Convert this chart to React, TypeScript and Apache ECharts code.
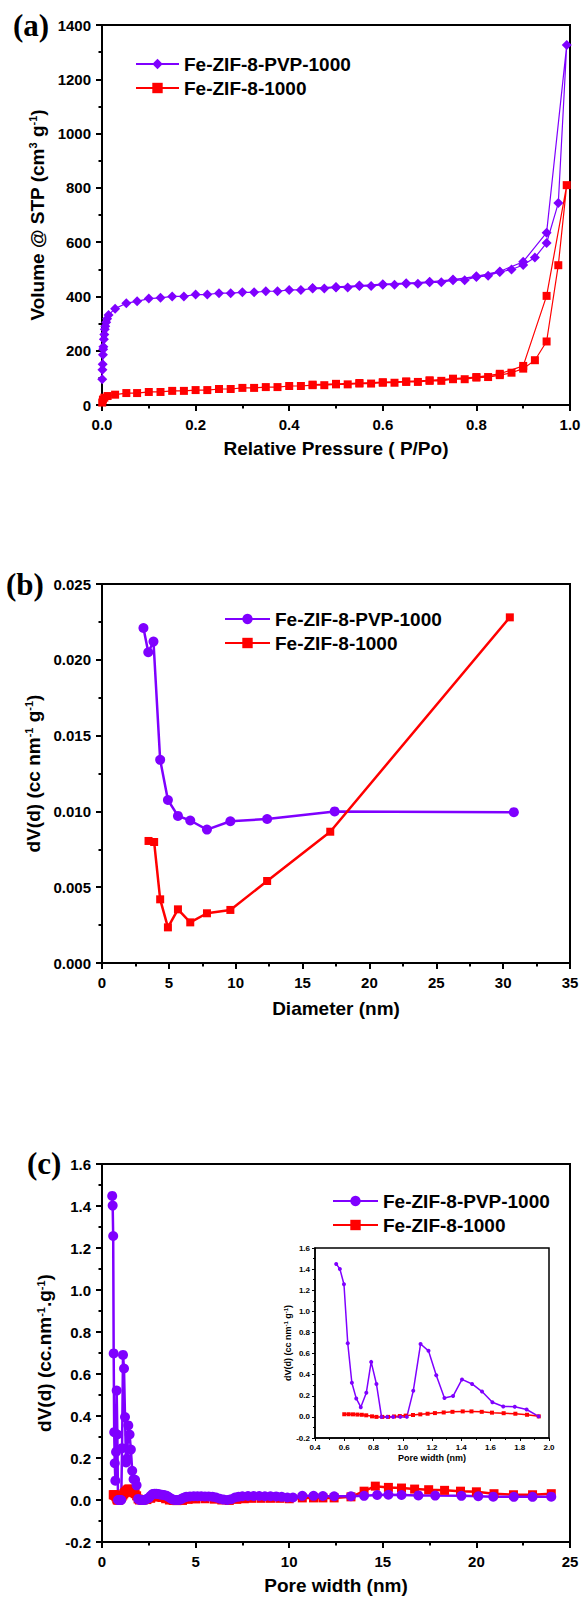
import React, { useEffect, useRef } from "react";
import * as echarts from "echarts";

const PVP = "Fe-ZIF-8-PVP-1000";
const FE = "Fe-ZIF-8-1000";
const PURPLE = "#7F00FF";
const RED = "#FF0000";
const FONT = "'Liberation Sans', Arial, sans-serif";
const SERIF = "'Liberation Serif', 'Times New Roman', serif";

// (a) N2 isotherms: [P/Po, volume]
const isoPvp: [number, number][] = [
  [0.0005, 95], [0.001, 130], [0.0015, 150], [0.002, 185], [0.0025, 205], [0.003, 215],
  [0.004, 242], [0.005, 260], [0.006, 279], [0.007, 290], [0.009, 305], [0.011, 318],
  [0.014, 332], [0.028, 355], [0.052, 375], [0.075, 382], [0.1, 392], [0.125, 395],
  [0.15, 400], [0.175, 400], [0.2, 407], [0.225, 407], [0.25, 412], [0.275, 412],
  [0.3, 415], [0.325, 415], [0.35, 419], [0.375, 419], [0.4, 424], [0.425, 424],
  [0.45, 429], [0.475, 429], [0.5, 433], [0.525, 433], [0.55, 438], [0.575, 438],
  [0.6, 443], [0.625, 443], [0.65, 447], [0.675, 447], [0.7, 452], [0.725, 452],
  [0.75, 460], [0.775, 460], [0.8, 472], [0.825, 476], [0.85, 490], [0.875, 499],
  [0.9, 516], [0.925, 543], [0.95, 597], [0.975, 744], [0.993, 1326],
  [0.95, 635], [0.9, 528], [0.85, 492], [0.8, 474], [0.75, 462], [0.7, 454],
  [0.65, 449], [0.6, 445], [0.55, 440], [0.5, 435], [0.45, 431],
];
const isoFe: [number, number][] = [
  [0.0005, 9], [0.002, 20], [0.005, 27], [0.012, 33], [0.028, 38], [0.052, 44],
  [0.075, 44], [0.1, 48], [0.125, 48], [0.15, 52], [0.175, 52], [0.2, 55],
  [0.225, 55], [0.25, 59], [0.275, 59], [0.3, 63], [0.325, 63], [0.35, 66],
  [0.375, 66], [0.4, 70], [0.425, 70], [0.45, 73], [0.475, 73], [0.5, 76],
  [0.525, 76], [0.55, 79], [0.575, 79], [0.6, 82], [0.625, 82], [0.65, 85],
  [0.675, 85], [0.7, 89], [0.725, 89], [0.75, 95], [0.775, 95], [0.8, 101],
  [0.825, 103], [0.85, 110], [0.875, 119], [0.9, 134], [0.925, 165], [0.95, 234],
  [0.975, 515], [0.993, 810],
  [0.95, 402], [0.9, 144], [0.85, 115], [0.8, 103], [0.75, 97], [0.7, 91],
  [0.65, 87], [0.6, 84], [0.55, 81], [0.5, 78], [0.45, 75],
];

// (b) pore size distribution: [diameter nm, dV(d)]
const bjhPvp: [number, number][] = [
  [3.1, 0.0221], [3.46, 0.0205], [3.85, 0.0212], [4.35, 0.0134], [4.93, 0.01075],
  [5.68, 0.0097], [6.6, 0.0094], [7.85, 0.0088], [9.6, 0.00935], [12.35, 0.0095],
  [17.4, 0.01], [30.8, 0.00995],
];
const bjhFe: [number, number][] = [
  [3.48, 0.00805], [3.9, 0.00798], [4.35, 0.0042], [4.93, 0.00235], [5.68, 0.00354],
  [6.6, 0.00268], [7.85, 0.00328], [9.6, 0.0035], [12.35, 0.00541], [17.07, 0.00866],
  [30.5, 0.0228],
];

// (c) DFT pore width distribution: [pore width nm, dV(d)]
const dftPvp: [number, number][] = [
  [0.545, 1.448], [0.57, 1.402], [0.598, 1.257], [0.624, 0.698], [0.652, 0.323],
  [0.682, 0.175], [0.713, 0.092], [0.751, 0.229], [0.784, 0.521], [0.82, 0.312],
  [0.855, 0.0], [0.894, 0.0], [0.934, 0.0], [0.983, 0.0], [1.028, 0.0],
  [1.072, 0.247], [1.122, 0.691], [1.176, 0.626], [1.229, 0.395], [1.285, 0.179],
  [1.344, 0.197], [1.405, 0.355], [1.474, 0.312], [1.542, 0.24], [1.613, 0.139],
  [1.687, 0.099], [1.766, 0.096], [1.847, 0.07], [1.929, 0.005],
  [2.0, 0.0], [2.1, 0.0], [2.2, 0.0], [2.3, 0.0], [2.4, 0.005], [2.5, 0.01],
  [2.6, 0.02], [2.7, 0.028], [2.8, 0.03], [2.9, 0.03], [3.0, 0.028], [3.1, 0.026],
  [3.2, 0.025], [3.3, 0.024], [3.4, 0.022], [3.5, 0.018], [3.6, 0.012], [3.7, 0.006],
  [3.8, 0.002], [3.9, 0.0], [4.0, 0.0], [4.1, 0.0], [4.2, 0.003], [4.3, 0.008],
  [4.4, 0.012], [4.5, 0.015], [4.7, 0.017], [4.9, 0.018], [5.1, 0.018], [5.3, 0.018],
  [5.5, 0.017], [5.7, 0.017], [5.9, 0.016], [6.1, 0.012], [6.3, 0.006], [6.5, 0.002],
  [6.7, 0.0], [6.9, 0.004], [7.1, 0.012], [7.3, 0.016], [7.5, 0.018], [7.8, 0.019],
  [8.1, 0.019], [8.4, 0.019], [8.7, 0.018], [9.0, 0.018], [9.3, 0.017], [9.6, 0.015],
  [9.9, 0.012], [10.2, 0.012], [10.7, 0.02], [11.3, 0.02], [11.8, 0.019], [12.4, 0.018],
  [13.3, 0.018], [14.0, 0.02], [14.7, 0.024], [15.3, 0.025], [16.0, 0.024], [16.9, 0.022],
  [17.8, 0.021], [19.2, 0.02], [20.1, 0.018], [20.9, 0.016], [22.0, 0.015], [23.0, 0.015],
  [24.0, 0.016],
];
const dftFe: [number, number][] = [
  [0.6, 0.025], [0.63, 0.025], [0.66, 0.024], [0.69, 0.022], [0.72, 0.02], [0.75, 0.015],
  [0.79, 0.005], [0.82, 0.0], [0.86, 0.0], [0.9, 0.0], [0.94, 0.004], [0.98, 0.008],
  [1.02, 0.012], [1.07, 0.018], [1.12, 0.024], [1.17, 0.03], [1.22, 0.036], [1.28, 0.042],
  [1.34, 0.048], [1.41, 0.052], [1.47, 0.052], [1.54, 0.048], [1.61, 0.04], [1.69, 0.035],
  [1.77, 0.03], [1.85, 0.02], [1.93, 0.005], [2.0, 0.0], [2.2, 0.0], [2.4, 0.002],
  [2.6, 0.008], [2.8, 0.014], [3.0, 0.016], [3.2, 0.012], [3.4, 0.006], [3.6, 0.0],
  [3.8, -0.002], [4.0, -0.003], [4.3, -0.002], [4.6, 0.003], [5.0, 0.005], [5.5, 0.006],
  [6.0, 0.004], [6.4, 0.0], [6.8, -0.002], [7.2, 0.003], [7.6, 0.006], [8.0, 0.008],
  [8.5, 0.008], [9.0, 0.008], [9.5, 0.008], [10.0, 0.006], [10.7, 0.01], [11.3, 0.01],
  [11.8, 0.01], [12.4, 0.01], [13.3, 0.015], [14.0, 0.042], [14.6, 0.066], [15.3, 0.06],
  [16.0, 0.057], [16.7, 0.052], [17.45, 0.049], [18.3, 0.046], [19.15, 0.042], [20.0, 0.039],
  [20.94, 0.03], [21.98, 0.025], [23.0, 0.025], [24.0, 0.03],
];

const tick = (v: number, d: number) => (Math.abs(v) < 1e-9 ? 0 : v).toFixed(d);

function valueAxis(gridIndex: number, min: number, max: number, interval: number, opts: any) {
  const small = !!opts.small;
  return {
    type: "value",
    gridIndex,
    min,
    max,
    interval,
    axisLine: { show: true, onZero: false, lineStyle: { color: "#000", width: small ? 1.5 : 2 } },
    axisTick: { show: true, inside: false, length: small ? 3 : 6, lineStyle: { color: "#000", width: small ? 1 : 2 } },
    minorTick: { show: true, splitNumber: 2, length: small ? 2 : 3.5, lineStyle: { color: "#000", width: small ? 1 : 2 } },
    splitLine: { show: false },
    minorSplitLine: { show: false },
    axisLabel: {
      show: true,
      color: "#000",
      fontSize: small ? 8 : 15,
      fontWeight: "bold",
      fontFamily: FONT,
      margin: opts.margin,
      formatter: (v: number) => tick(v, opts.dec),
      showMinLabel: true,
      showMaxLabel: true,
      hideOverlap: false,
    },
    name: opts.name,
    nameLocation: "middle",
    nameGap: opts.nameGap,
    nameTextStyle: {
      color: "#000",
      fontSize: small ? 9 : 19,
      fontWeight: "bold",
      fontFamily: FONT,
      rich: {
        n: { fontSize: small ? 9 : 19, fontWeight: "bold", fontFamily: FONT, color: "#000" },
        s: { fontSize: small ? 6 : 11, fontWeight: "bold", fontFamily: FONT, color: "#000", verticalAlign: "top" },
      },
    },
  };
}

const legendText = { fontSize: 19, fontWeight: "bold", fontFamily: FONT, color: "#000", lineHeight: 20 };

function lineSeries(name: string, data: [number, number][], idx: number, color: string, symbol: string, size: number, width: number) {
  return {
    type: "line",
    name,
    xAxisIndex: idx,
    yAxisIndex: idx,
    data,
    symbol,
    symbolSize: size,
    showAllSymbol: true,
    clip: true,
    lineStyle: { color, width },
    itemStyle: { color, borderWidth: 0 },
    emphasis: { disabled: true },
  };
}

function panelLabel(text: string, x: number, y: number) {
  return {
    type: "text",
    x,
    y,
    style: { text, fill: "#000", fontSize: 31, fontWeight: "bold", fontFamily: SERIF, verticalAlign: "middle" },
  };
}

export default function App() {
  const ref = useRef<HTMLDivElement>(null);
  useEffect(() => {
    if (!ref.current) return;
    const chart = echarts.init(ref.current, undefined, { renderer: "svg" });
    const gridBase = { show: true, borderColor: "#000", borderWidth: 2, backgroundColor: "transparent", containLabel: false, outerBoundsMode: "none" };
    const option: any = {
      animation: false,
      backgroundColor: "#fff",
      grid: [
        { ...gridBase, left: 102, top: 25, width: 468, height: 380 },
        { ...gridBase, left: 102, top: 584, width: 468, height: 379 },
        { ...gridBase, left: 102, top: 1164, width: 468, height: 378 },
        { ...gridBase, left: 315, top: 1248, width: 234, height: 190, borderWidth: 1.5, backgroundColor: "#fff" },
      ],
      xAxis: [
        valueAxis(0, 0, 1, 0.2, { dec: 1, margin: 12, name: "Relative Pressure ( P/Po)", nameGap: 34 }),
        valueAxis(1, 0, 35, 5, { dec: 0, margin: 12, name: "Diameter (nm)", nameGap: 36 }),
        valueAxis(2, 0, 25, 5, { dec: 0, margin: 12, name: "Pore width (nm)", nameGap: 34 }),
        valueAxis(3, 0.4, 2.0, 0.2, { dec: 1, margin: 5, name: "Pore width (nm)", nameGap: 15, small: true }),
      ],
      yAxis: [
        valueAxis(0, 0, 1400, 200, { dec: 0, margin: 11, name: "{n|Volume @ STP (cm}{s|3}{n| g}{s|-1}{n|)}", nameGap: 49 }),
        valueAxis(1, 0, 0.025, 0.005, { dec: 3, margin: 11, name: "{n|dV(d) (cc nm}{s|-1}{n| g}{s|-1}{n|)}", nameGap: 52 }),
        valueAxis(2, -0.2, 1.6, 0.2, { dec: 1, margin: 11, name: "{n|dV(d) (cc.nm}{s|-1}{n|.g}{s|-1}{n|)}", nameGap: 40 }),
        valueAxis(3, -0.2, 1.6, 0.2, { dec: 1, margin: 5, name: "{n|dV(d) (cc nm}{s|-1}{n| g}{s|-1}{n|)}", nameGap: 17, small: true }),
      ],
      legend: [
        {
          orient: "vertical", left: 130, top: 49, itemWidth: 43, itemHeight: 13, itemGap: 4,
          selectedMode: false, textStyle: legendText,
          data: [PVP + "#a", FE + "#a"], formatter: (n: string) => n.split("#")[0],
        },
        {
          orient: "vertical", left: 219, top: 604, itemWidth: 45, itemHeight: 13, itemGap: 4,
          selectedMode: false, textStyle: legendText,
          data: [PVP + "#b", FE + "#b"], formatter: (n: string) => n.split("#")[0],
        },
        {
          orient: "vertical", left: 327, top: 1186, itemWidth: 45, itemHeight: 13, itemGap: 4,
          selectedMode: false, textStyle: legendText,
          data: [PVP + "#c", FE + "#c"], formatter: (n: string) => n.split("#")[0],
        },
      ],
      series: [
        lineSeries(PVP + "#a", isoPvp, 0, PURPLE, "diamond", 10, 1.2),
        lineSeries(FE + "#a", isoFe, 0, RED, "rect", 8, 1.2),
        lineSeries(PVP + "#b", bjhPvp, 1, PURPLE, "circle", 10, 2.5),
        lineSeries(FE + "#b", bjhFe, 1, RED, "rect", 8, 2.5),
        lineSeries(FE + "#c", dftFe, 2, RED, "rect", 9, 2.5),
        lineSeries(PVP + "#c", dftPvp, 2, PURPLE, "circle", 10, 2.5),
        lineSeries(FE + "#inset", dftFe.filter((p) => p[0] <= 1.95), 3, RED, "rect", 4, 1.5),
        lineSeries(PVP + "#inset", dftPvp.filter((p) => p[0] <= 1.95), 3, PURPLE, "circle", 4, 1.5),
      ],
      graphic: [
        panelLabel("(a)", 13, 25),
        panelLabel("(b)", 6, 584),
        panelLabel("(c)", 27, 1163),
      ],
    };
    chart.setOption(option);
    return () => chart.dispose();
  }, []);
  return (
    <div
      ref={ref}
      style={{ position: "absolute", left: 0, top: 0, width: 582, height: 1597, background: "#fff" }}
    />
  );
}
